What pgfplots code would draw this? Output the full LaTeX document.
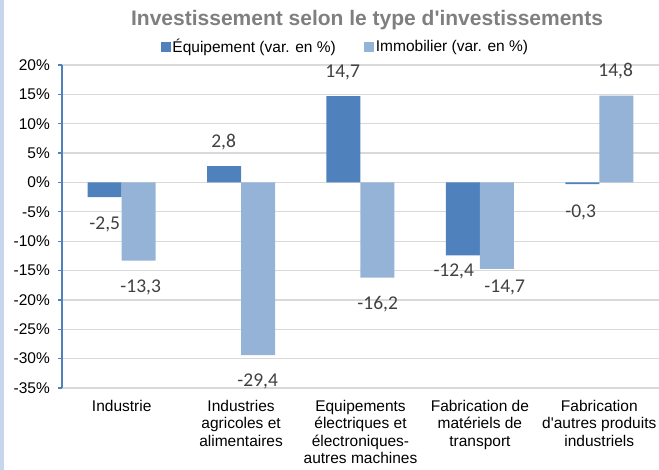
\documentclass[border=0pt]{standalone}
\usepackage{pgfplots}
\pgfplotsset{compat=1.18}
\usepackage{fontspec}
\setmainfont{Liberation Sans}
\newfontfamily\calibri{Carlito}
\definecolor{eqblue}{RGB}{79,129,189}
\definecolor{imblue}{RGB}{149,179,215}
\definecolor{gridgray}{RGB}{217,217,217}
\definecolor{titlegray}{RGB}{127,127,127}
\definecolor{labelgray}{RGB}{64,64,64}
\definecolor{stripblue}{RGB}{197,214,238}
\begin{document}
\begin{tikzpicture}
\useasboundingbox (-62pt,-82pt) rectangle (597pt,388pt);
\fill[stripblue] (-62pt,-82pt) rectangle (-58pt,388pt);
\begin{axis}[
  at={(0pt,0pt)}, anchor=south west,
  scale only axis, width=597pt, height=323pt,
  xmin=-0.5, xmax=4.5, ymin=-35, ymax=20,
  axis y line*=left, axis x line*=bottom,
  x axis line style={draw=none},
  y axis line style={eqblue, line width=1.2pt, -},
  ytick={-35,-30,-25,-20,-15,-10,-5,0,5,10,15,20},
  yticklabels={-35\%,-30\%,-25\%,-20\%,-15\%,-10\%,-5\%,0\%,5\%,10\%,15\%,20\%},
  ytick align=outside, major tick length=4pt,
  ytick style={eqblue, line width=1.2pt},
  yticklabel style={font=\fontsize{15.5}{17}\selectfont, inner sep=0pt, xshift=-8pt},
  xtick={0,1,2,3,4},
  xtick style={draw=none},
  xticklabels={Industrie, Industries\\agricoles et\\alimentaires, Equipements\\électriques et\\électroniques-\\autres machines, Fabrication de\\matériels de\\transport, Fabrication\\d\textquotesingle autres produits\\industriels},
  xticklabel style={font=\fontsize{15.5}{17.3}\selectfont, align=center, inner sep=0pt, anchor=north, yshift=-12pt},
  ymajorgrids, grid style={gridgray, line width=1.3pt},
  title={Investissement selon le type d\textquotesingle investissements},
  title style={font=\bfseries\fontsize{21}{24}\selectfont, text=titlegray, at={(0.511,1.121)}, anchor=center, inner sep=0pt},
  legend columns=2,
  legend style={at={(0.1658,1.0557)}, anchor=west, draw=none, fill=none, inner sep=0pt, outer sep=0pt,
    font=\fontsize{15.5}{17}\selectfont, nodes={inner xsep=1.5pt, inner ysep=0pt},
    /tikz/every even column/.append style={column sep=27pt}},
  clip=false,
]
\addplot[ybar, bar width=34pt, bar shift=-17pt, fill=eqblue, draw=none,
  legend image code/.code={\fill[eqblue] (0pt,-5pt) rectangle (10pt,5pt);}]
  coordinates {(0,-2.5) (1,2.8) (2,14.7) (3,-12.4) (4,-0.3)};
\addplot[ybar, bar width=34pt, bar shift=17pt, fill=imblue, draw=none,
  legend image code/.code={\fill[imblue] (0pt,-5pt) rectangle (10pt,5pt);}]
  coordinates {(0,-13.3) (1,-29.4) (2,-16.2) (3,-14.7) (4,14.8)};
\legend{Équipement (var. en \%), Immobilier (var. en \%)}
\begin{scope}[every node/.style={font=\calibri\fontsize{19.5}{20}\selectfont, text=labelgray, inner sep=0pt}]
\node at (axis cs:-0.142,-7.17) {-2,5};
\node at (axis cs:0.159,-17.9) {-13,3};
\node at (axis cs:0.854,6.83) {2,8};
\node at (axis cs:1.139,-33.96) {-29,4};
\node at (axis cs:1.851,18.77) {14,7};
\node at (axis cs:2.144,-20.8) {-16,2};
\node at (axis cs:2.781,-15.19) {-12,4};
\node at (axis cs:3.208,-17.9) {-14,7};
\node at (axis cs:3.844,-5.12) {-0,3};
\node at (axis cs:4.137,18.94) {14,8};
\end{scope}
\end{axis}
\end{tikzpicture}
\end{document}
